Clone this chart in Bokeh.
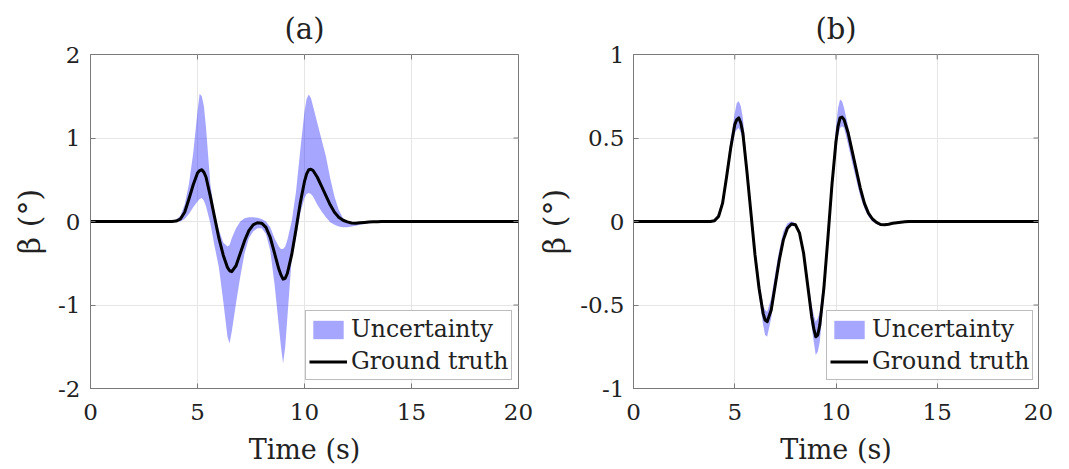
from bokeh.plotting import figure
from bokeh.models import Legend, LegendItem, FixedTicker, Range1d, ColumnDataSource
from bokeh.layouts import row
from bokeh.embed import file_html
from bokeh.resources import INLINE

# ---------------- data ----------------
time = [0, 3.6, 3.8, 4.0, 4.2, 4.4, 4.6, 4.8, 5.0, 5.1,
        5.2, 5.3, 5.4, 5.6, 5.8, 6.0, 6.2, 6.4, 6.5, 6.6,
        6.8, 7.0, 7.2, 7.4, 7.6, 7.8, 8.0, 8.2, 8.4, 8.6,
        8.8, 8.9, 9.0, 9.1, 9.2, 9.4, 9.6, 9.8, 10.0, 10.1,
        10.2, 10.3, 10.4, 10.6, 10.8, 11.0, 11.2, 11.4, 11.6, 11.8,
        12.0, 12.2, 12.4, 12.6, 12.8, 13.0, 13.2, 13.4, 13.6, 20]

ground_truth = [0, 0, 0, 0.005, 0.03, 0.11, 0.27, 0.44, 0.58, 0.61,
                0.62, 0.59, 0.53, 0.30, 0.05, -0.20, -0.40, -0.55, -0.59, -0.60,
                -0.53, -0.38, -0.23, -0.11, -0.04, -0.015, -0.02, -0.07, -0.19, -0.38,
                -0.57, -0.64, -0.69, -0.68, -0.62, -0.40, -0.10, 0.22, 0.48, 0.57,
                0.62, 0.625, 0.61, 0.53, 0.42, 0.31, 0.20, 0.11, 0.05, 0.015,
                -0.005, -0.018, -0.02, -0.016, -0.011, -0.007, -0.004, -0.002, 0, 0]

lower_a = [0, 0, 0, 0, 0, 0.03, 0.09, 0.17, 0.24, 0.27,
           0.28, 0.25, 0.18, -0.02, -0.30, -0.55, -0.95, -1.38, -1.46, -1.32,
           -0.98, -0.66, -0.38, -0.20, -0.12, -0.08, -0.08, -0.15, -0.35, -0.75,
           -1.25, -1.50, -1.70, -1.50, -1.15, -0.45, -0.20, 0.10, 0.28, 0.33,
           0.34, 0.33, 0.30, 0.20, 0.12, 0.05, -0.01, -0.04, -0.06, -0.07,
           -0.07, -0.06, -0.05, -0.04, -0.03, -0.02, -0.012, -0.006, -0.003, 0]
upper_a = [0, 0, 0.005, 0.02, 0.07, 0.20, 0.45, 0.82, 1.32, 1.53,
           1.50, 1.38, 1.12, 0.45, 0.10, -0.10, -0.25, -0.30, -0.28, -0.20,
           -0.08, 0.0, 0.04, 0.05, 0.05, 0.045, 0.03, 0.0, -0.07, -0.20,
           -0.30, -0.33, -0.33, -0.30, -0.22, 0.0, 0.35, 0.85, 1.32, 1.47,
           1.52, 1.48, 1.38, 1.18, 0.98, 0.78, 0.52, 0.30, 0.14, 0.04,
           0.0, -0.01, -0.005, 0, 0, 0, 0, 0, 0, 0]

lower_b = [0, 0, 0, 0, 0.02, 0.09, 0.24, 0.40, 0.53, 0.55,
           0.56, 0.53, 0.49, 0.26, 0.02, -0.24, -0.45, -0.62, -0.68, -0.69,
           -0.58, -0.41, -0.25, -0.12, -0.05, -0.025, -0.03, -0.08, -0.21, -0.41,
           -0.63, -0.72, -0.80, -0.78, -0.72, -0.46, -0.15, 0.16, 0.42, 0.51,
           0.56, 0.57, 0.56, 0.46, 0.35, 0.25, 0.15, 0.08, 0.03, 0.0,
           -0.015, -0.025, -0.025, -0.02, -0.014, -0.009, -0.005, -0.003, -0.001, 0]
upper_b = [0, 0, 0, 0.01, 0.05, 0.14, 0.31, 0.49, 0.65, 0.71,
           0.72, 0.69, 0.62, 0.36, 0.10, -0.15, -0.35, -0.50, -0.53, -0.54,
           -0.46, -0.31, -0.17, -0.06, -0.01, 0.0, -0.01, -0.05, -0.16, -0.34,
           -0.50, -0.56, -0.60, -0.58, -0.54, -0.34, -0.05, 0.27, 0.57, 0.68,
           0.73, 0.72, 0.68, 0.57, 0.45, 0.33, 0.21, 0.12, 0.06, 0.02,
           0.0, -0.012, -0.015, -0.012, -0.008, -0.005, -0.003, -0.001, 0.001, 0]

x_ticks = [0, 5, 10, 15, 20]
y_ticks_a = [-2, -1, 0, 1, 2]
y_labels_a = {-2: "-2", -1: "-1", 0: "0", 1: "1", 2: "2"}
y_ticks_b = [-1, -0.5, 0, 0.5, 1]
y_labels_b = {-1: "-1", -0.5: "-0.5", 0: "0", 0.5: "0.5", 1: "1"}

FONT = "DejaVu Serif"
TXT = "#222222"
BOX = "#7a7a7a"
GRID = "#e6e6e6"
FRAME_H = 334
TICK_PX = 5


def make_panel(title, lower, upper, yrange, yticks, ylabels, width,
               b_left, frame_w, legend_x, ylab_standoff, ytick_standoff):
    p = figure(width=width, height=469, output_backend="svg",
               toolbar_location=None, x_range=Range1d(0, 20),
               y_range=Range1d(*yrange),
               min_border_left=b_left,
               min_border_right=width - b_left - frame_w,
               min_border_top=54, min_border_bottom=81)
    p.title.text = title
    p.title.align = "center"
    p.title.text_font = FONT
    p.title.text_font_size = "29px"
    p.title.text_font_style = "normal"
    p.title.text_color = TXT
    p.title.standoff = 3
    p.title.padding = dict(left=0, right=0, top=0, bottom=7)

    src = ColumnDataSource(dict(t=time, lo=lower, hi=upper, gt=ground_truth))
    band = p.varea(x="t", y1="lo", y2="hi", source=src,
                   fill_color="#0000ff", fill_alpha=0.35)
    line = p.line(x="t", y="gt", source=src, line_color="black",
                  line_width=3, line_join="round")

    p.outline_line_color = BOX
    p.outline_line_width = 1
    p.background_fill_color = "white"
    p.border_fill_color = "white"

    for ax in (p.xaxis[0], p.yaxis[0]):
        ax.major_tick_in = TICK_PX
        ax.major_tick_out = 0
        ax.minor_tick_line_color = None
        ax.axis_line_color = BOX
        ax.major_tick_line_color = BOX
        ax.major_label_text_font = FONT
        ax.major_label_text_font_size = "23px"
        ax.major_label_text_color = TXT
        ax.axis_label_text_font = FONT
        ax.axis_label_text_font_style = "normal"
        ax.axis_label_text_color = TXT
    p.xaxis.axis_label_text_font_size = "27px"
    p.yaxis.axis_label_text_font_size = "30px"
    p.xaxis.ticker = FixedTicker(ticks=x_ticks)
    p.yaxis.ticker = FixedTicker(ticks=yticks)
    p.yaxis.major_label_overrides = ylabels
    p.xaxis.axis_label = "Time (s)"
    p.yaxis.axis_label = "β (°)"
    p.xaxis.major_label_standoff = 15
    p.xaxis.axis_label_standoff = 11
    p.yaxis.major_label_standoff = ytick_standoff
    p.yaxis.axis_label_standoff = ylab_standoff

    # mirrored inward tick marks on the top and right edges of the box
    ylo, yhi = yrange
    dy = (yhi - ylo) * TICK_PX / FRAME_H
    dx = 20 * TICK_PX / frame_w
    p.segment(x0=x_ticks, x1=x_ticks, y0=[yhi] * len(x_ticks),
              y1=[yhi - dy] * len(x_ticks), line_color=BOX, line_width=1)
    p.segment(x0=[20] * len(yticks), x1=[20 - dx] * len(yticks),
              y0=yticks, y1=yticks, line_color=BOX, line_width=1)

    p.xgrid.ticker = FixedTicker(ticks=x_ticks)
    p.ygrid.ticker = FixedTicker(ticks=yticks)
    p.xgrid.grid_line_color = GRID
    p.ygrid.grid_line_color = GRID

    legend = Legend(items=[LegendItem(label="Uncertainty", renderers=[band]),
                           LegendItem(label="Ground truth", renderers=[line])],
                    location=(legend_x, 8))
    legend.label_text_font = FONT
    legend.label_text_font_size = "23.5px"
    legend.label_text_color = TXT
    legend.border_line_color = BOX
    legend.border_line_width = 1
    legend.background_fill_color = "white"
    legend.background_fill_alpha = 1.0
    legend.padding = 3
    legend.spacing = 2
    legend.margin = 0
    legend.glyph_width = 38
    legend.glyph_height = 23
    legend.label_height = 30
    legend.label_standoff = 4
    p.add_layout(legend, "center")
    return p


p1 = make_panel("(a)", lower_a, upper_a, (-2, 2), y_ticks_a, y_labels_a,
                534, 90, 428, 215, 8, 10)
p2 = make_panel("(b)", lower_b, upper_b, (-1, 1), y_ticks_b, y_labels_b,
                527, 97, 407, 193, 5, 9)

layout = row(p1, p2)
open("out.html", "w").write(file_html(layout, INLINE))
